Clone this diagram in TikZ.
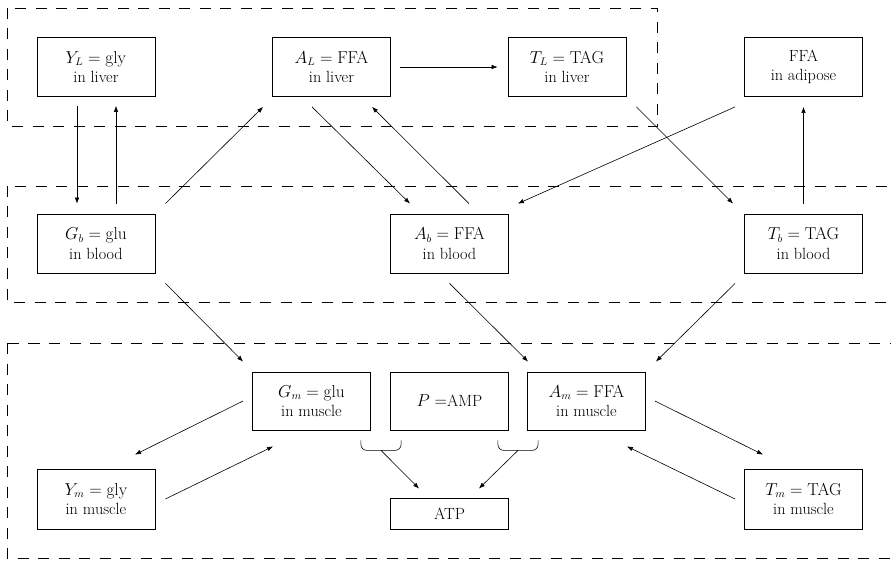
\documentclass[tikz,border=0pt]{standalone}
\usetikzlibrary{calc,arrows.meta}
\begin{document}
\begin{tikzpicture}[x=1pt,y=-1pt,
  box/.style={draw,line width=0.8pt,minimum width=118pt,minimum height=59pt,
    inner sep=0pt,align=center,font=\fontsize{16.2}{19.5}\selectfont},
  arr/.style={line width=0.6pt,-{Latex[length=6pt,width=4.5pt]}},
  region/.style={line width=0.8pt,dash pattern=on 11pt off 9.5pt},
  brace/.style={line width=0.6pt,rounded corners=6pt}]
\clip (0,0) rectangle (891,561);

% compartments
\draw[region] (7,8) rectangle (657,126);
\draw[region] (7,186) rectangle (905,302);
\draw[region] (7,343) rectangle (905,558);

% liver and adipose
\node[box] (YL) at (96,67) {$Y_L=\mathrm{gly}$\\in liver};
\node[box] (AL) at (331.5,67) {$A_L=\mathrm{FFA}$\\in liver};
\node[box] (TL) at (567,67) {$T_L=\mathrm{TAG}$\\in liver};
\node[box] (FA) at (803.5,67) {FFA\\in adipose};

% blood
\node[box] (Gb) at (96,243.5) {$G_b=\mathrm{glu}$\\in blood};
\node[box] (Ab) at (449.5,243.5) {$A_b=\mathrm{FFA}$\\in blood};
\node[box] (Tb) at (803.5,243.5) {$T_b=\mathrm{TAG}$\\in blood};

% muscle
\node[box,minimum height=58pt] (Gm) at (311.5,401) {$G_m=\mathrm{glu}$\\in muscle};
\node[box,minimum height=58pt] (P) at (449.5,401) {$P=$AMP};
\node[box,minimum height=58pt] (Am) at (586.5,401) {$A_m=\mathrm{FFA}$\\in muscle};
\node[box,minimum height=60pt] (Ym) at (96,499) {$Y_m=\mathrm{gly}$\\in muscle};
\node[box,minimum height=31pt] (ATP) at (449.5,513.5) {ATP};
\node[box,minimum height=60pt] (Tm) at (803.5,499) {$T_m=\mathrm{TAG}$\\in muscle};

% liver <-> blood
\draw[arr] ($(YL.south)+(-19,9)$) -- ($(Gb.north)+(-19,-10)$);
\draw[arr] ($(Gb.north)+(20,-10)$) -- ($(YL.south)+(20,9)$);
\draw[arr] ($(Gb.north east)+(10,-10)$) -- ($(AL.south west)+(-9,10)$);
\draw[arr] ($(AL.south)+(-19.5,10)$) -- ($(Ab.north)+(-39.5,-10)$);
\draw[arr] ($(Ab.north)+(19.5,-10)$) -- ($(AL.south)+(40.5,10)$);
\draw[arr] ($(AL.east)+(9,0)$) -- ($(TL.west)+(-10,0)$);
\draw[arr] ($(TL.south east)+(10,10)$) -- ($(Tb.north west)+(-11,-10)$);
\draw[arr] ($(FA.south west)+(-9,10)$) -- ($(Ab.north east)+(9,-10)$);
\draw[arr] ($(Tb.north)+(0,-10)$) -- ($(FA.south)+(0,10)$);

% blood -> muscle
\draw[arr] ($(Gb.south east)+(10,10)$) -- ($(Gm.north west)+(-9,-10)$);
\draw[arr] ($(Ab.south)+(0,10)$) -- ($(Am.north west)+(1,-10)$);
\draw[arr] ($(Tb.south west)+(-9,10)$) -- ($(Am.north east)+(10,-10)$);

% within muscle
\draw[arr] ($(Gm.west)+(-9,0)$) -- ($(Ym.north)+(39,-14)$);
\draw[arr] ($(Ym.east)+(10,0)$) -- ($(Gm.south west)+(21,16)$);
\draw[arr] ($(Am.east)+(9,0)$) -- ($(Tm.north)+(-40.5,-14)$);
\draw[arr] ($(Tm.west)+(-9,0)$) -- ($(Am.south east)+(-19,16)$);

% combining brackets towards ATP
\coordinate (bl1) at ($(Gm.south east)+(-10,10)$);
\coordinate (bl2) at ($(P.south west)+(11,10)$);
\coordinate (br1) at ($(P.south east)+(-11,10)$);
\coordinate (br2) at ($(Am.south west)+(11,10)$);
\draw[brace] (bl1) -- ++(0,10) -| (bl2);
\draw[brace] (br1) -- ++(0,10) -| (br2);
\coordinate (blm) at ($(bl1)!0.5!(bl2)+(0,10)$);
\coordinate (brm) at ($(br1)!0.5!(br2)+(0,10)$);
\draw[arr] (blm) -- ($(ATP.north west)+(29,-9)$);
\draw[arr] (brm) -- ($(ATP.north east)+(-30,-9)$);
\end{tikzpicture}
\end{document}
